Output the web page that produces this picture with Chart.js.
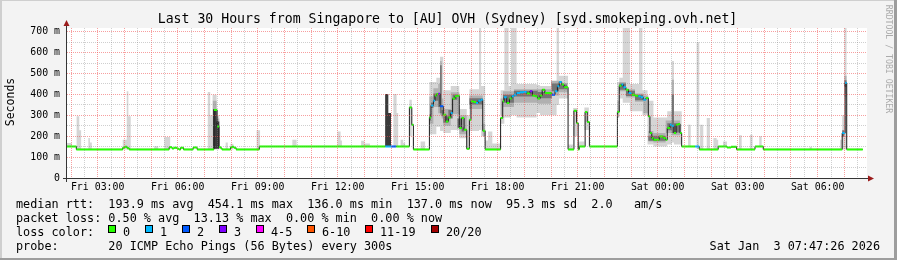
<!DOCTYPE html>
<html>
<head>
<meta charset="utf-8">
<script src="https://cdn.jsdelivr.net/npm/chart.js@4.4.1/dist/chart.umd.min.js"></script>
<style>
  html, body { margin: 0; padding: 0; background: #f3f3f3; }
  canvas { display: block; }
</style>
</head>
<body>
<canvas id="smokeChart" width="897" height="260"></canvas>
<script>
const chartTitle = 'Last 30 Hours from Singapore to [AU] OVH (Sydney) [syd.smokeping.ovh.net]';

// x values are hours since Fri 00:00
const timeLabelHours = [3, 6, 9, 12, 15, 18, 21, 24, 27, 30];
const timeLabels = ['Fri 03:00', 'Fri 06:00', 'Fri 09:00', 'Fri 12:00', 'Fri 15:00',
                    'Fri 18:00', 'Fri 21:00', 'Sat 00:00', 'Sat 03:00', 'Sat 06:00'];
const rttTicks = [0, 100, 200, 300, 400, 500, 600, 700];
const rttTickLabels = ['0', '100 m', '200 m', '300 m', '400 m', '500 m', '600 m', '700 m'];

const lossColors = ['#26ff00', '#00b8ff', '#0059ff', '#7e00ff', '#ff00ff', '#ff5500', '#ff0000', '#a10000'];
const lossLabels = ['0', '1', '2', '3', '4-5', '6-10', '11-19', '20/20'];

// median rtt: [hour, ms, loss colour index], value holds until next row
const median = [
  [1.85, 151, 0], [2.20, 137, 0], [3.94, 145, 0], [4.01, 150, 0], [4.10, 143, 0], [4.18, 137, 0],
  [5.68, 147, 0], [5.79, 141, 0], [5.86, 145, 0], [5.98, 140, 0], [6.05, 137, 0], [6.11, 145, 0],
  [6.22, 137, 0], [6.58, 146, 0], [6.73, 137, 0], [7.36, 326, 0], [7.48, 247, 0], [7.55, 148, 0],
  [7.61, 143, 0], [7.66, 137, 0], [7.98, 147, 0], [8.04, 150, 0], [8.11, 145, 0], [8.19, 137, 0],
  [9.06, 151, 0], [13.78, 151, 1], [14.00, 151, 2], [14.20, 151, 0], [14.69, 338, 0], [14.78, 255, 0],
  [14.84, 137, 0], [15.44, 290, 0], [15.50, 347, 1], [15.59, 370, 1], [15.65, 395, 0], [15.71, 402, 0],
  [15.77, 403, 3], [15.84, 343, 2], [15.96, 303, 0], [16.06, 271, 0], [16.15, 290, 0], [16.24, 311, 1],
  [16.31, 380, 0], [16.40, 391, 0], [16.49, 394, 0], [16.56, 239, 0], [16.65, 287, 0], [16.74, 231, 0],
  [16.84, 140, 0], [16.94, 279, 0], [17.00, 367, 0], [17.09, 364, 0], [17.19, 359, 1], [17.27, 370, 1],
  [17.36, 375, 1], [17.44, 226, 0], [17.53, 137, 0], [18.11, 287, 0], [18.19, 367, 0], [18.24, 386, 1],
  [18.34, 359, 0], [18.44, 380, 0], [18.53, 391, 1], [18.61, 399, 1], [18.71, 407, 1], [18.84, 410, 1],
  [18.96, 412, 1], [19.09, 405, 0], [19.21, 415, 3], [19.30, 395, 0], [19.40, 391, 0], [19.49, 380, 0],
  [19.59, 395, 0], [19.67, 423, 0], [19.77, 407, 0], [19.90, 407, 0], [20.03, 399, 2], [20.15, 415, 1],
  [20.24, 439, 1], [20.31, 460, 1], [20.40, 447, 0], [20.49, 434, 0], [20.64, 137, 0], [20.86, 322, 0],
  [20.96, 263, 0], [21.02, 137, 0], [21.06, 151, 0], [21.28, 316, 0], [21.36, 268, 0], [21.44, 151, 0],
  [22.49, 316, 0], [22.56, 442, 0], [22.64, 447, 1], [22.71, 434, 1], [22.81, 423, 0], [22.91, 407, 1],
  [23.03, 399, 0], [23.15, 394, 0], [23.27, 391, 1], [23.36, 386, 1], [23.46, 375, 1], [23.56, 383, 0],
  [23.65, 295, 0], [23.71, 215, 0], [23.78, 191, 0], [23.84, 183, 0], [24.06, 199, 0], [24.21, 191, 0],
  [24.30, 183, 0], [24.36, 239, 0], [24.46, 255, 1], [24.53, 250, 1], [24.61, 215, 0], [24.69, 255, 0],
  [24.77, 258, 0], [24.84, 215, 0], [24.90, 151, 0], [25.40, 151, 1], [25.56, 137, 0], [26.27, 151, 0],
  [26.60, 146, 0], [26.75, 149, 0], [26.96, 137, 0], [27.65, 151, 0], [27.96, 137, 0], [30.92, 215, 1],
  [31.03, 455, 1], [31.09, 137, 0], [31.69, 137, 0]
];

// smoke: [from hour, to hour, low ms, high ms]
const smokeLight = [
  [1.85, 2.03, 150, 168], [2.21, 2.31, 137, 295], [2.31, 2.38, 137, 228], [2.65, 2.71, 137, 191],
  [2.71, 2.78, 137, 170], [3.94, 4.09, 137, 183], [4.09, 4.15, 137, 415], [4.15, 4.24, 137, 295],
  [5.12, 5.27, 137, 152], [5.50, 5.72, 137, 196], [7.13, 7.22, 137, 412], [7.22, 7.31, 137, 300],
  [7.31, 7.46, 137, 399], [7.46, 7.56, 137, 300], [7.80, 7.88, 137, 170], [7.98, 8.09, 137, 164],
  [8.96, 9.09, 137, 228], [10.30, 10.46, 151, 183], [11.99, 12.11, 151, 223], [12.11, 12.16, 151, 180],
  [12.88, 13.00, 151, 178], [13.00, 13.21, 151, 165], [14.09, 14.21, 151, 402], [14.21, 14.27, 151, 311],
  [14.36, 14.46, 151, 183], [14.46, 14.53, 151, 167], [14.69, 14.78, 200, 375], [15.11, 15.28, 137, 175],
  [15.44, 15.70, 210, 460], [15.70, 15.84, 245, 480], [15.84, 15.96, 225, 580], [15.96, 16.24, 215, 420],
  [16.24, 16.56, 230, 440], [16.56, 16.84, 190, 330], [16.84, 16.94, 137, 300], [16.94, 17.30, 225, 425],
  [17.30, 17.38, 230, 718], [17.38, 17.53, 200, 440], [17.53, 17.64, 137, 180], [17.64, 17.80, 137, 223],
  [17.80, 18.11, 137, 165], [18.11, 18.25, 260, 420], [18.25, 18.41, 290, 718], [18.41, 18.50, 290, 440],
  [18.50, 18.71, 300, 718], [18.71, 19.46, 290, 450], [19.46, 19.59, 311, 445], [19.59, 20.21, 300, 440],
  [20.21, 20.30, 350, 718], [20.30, 20.64, 380, 490], [20.64, 20.83, 137, 160], [20.83, 21.00, 200, 335],
  [21.00, 21.06, 137, 170], [21.06, 21.25, 151, 175], [21.25, 21.42, 230, 338], [22.49, 22.56, 300, 460],
  [22.56, 22.69, 380, 480], [22.69, 22.96, 360, 718], [22.96, 23.30, 320, 450], [23.30, 23.43, 320, 718],
  [23.43, 23.62, 300, 420], [23.62, 23.84, 160, 370], [23.84, 24.36, 151, 290], [24.36, 24.53, 160, 320],
  [24.53, 24.61, 170, 560], [24.61, 24.90, 160, 320], [25.14, 25.24, 151, 255], [25.46, 25.56, 140, 650],
  [25.59, 25.71, 137, 255], [25.84, 25.96, 137, 287], [26.09, 26.21, 137, 191], [26.21, 26.27, 137, 183],
  [26.45, 26.60, 151, 175], [27.05, 27.15, 137, 205], [27.46, 27.56, 137, 207], [27.81, 27.90, 151, 200],
  [29.70, 29.78, 137, 150], [30.84, 30.92, 137, 183], [30.92, 31.00, 137, 300], [31.00, 31.09, 137, 718]
];
const smokeMid = [
  [7.31, 7.46, 140, 370], [7.46, 7.56, 140, 285], [15.44, 15.59, 260, 390], [15.59, 15.77, 340, 430],
  [15.77, 15.84, 310, 450], [15.84, 15.90, 300, 560], [15.90, 15.96, 285, 380], [15.96, 16.24, 250, 330],
  [16.24, 16.56, 305, 410], [16.56, 16.84, 210, 300], [16.94, 17.44, 330, 395], [17.44, 17.53, 200, 260],
  [18.11, 18.20, 300, 380], [18.20, 18.61, 340, 415], [18.61, 19.50, 360, 425], [19.50, 20.00, 355, 425],
  [20.00, 20.30, 395, 465], [20.30, 20.62, 410, 455], [22.49, 22.56, 290, 370], [22.56, 22.81, 415, 460],
  [22.81, 23.15, 385, 425], [23.15, 23.46, 365, 405], [23.46, 23.65, 310, 395], [23.65, 23.84, 175, 225],
  [23.84, 24.30, 170, 215], [24.30, 24.53, 215, 275], [24.53, 24.61, 205, 470], [24.61, 24.84, 205, 275],
  [31.00, 31.09, 390, 490]
];
const smokeDark = [
  [15.44, 15.50, 275, 305], [15.50, 15.59, 335, 360], [15.59, 15.77, 370, 405], [15.77, 15.84, 340, 405],
  [15.84, 15.90, 310, 540], [15.90, 15.96, 295, 325], [15.96, 16.15, 265, 295], [16.15, 16.31, 285, 325],
  [16.31, 16.49, 375, 400], [16.49, 16.65, 240, 285], [16.65, 16.74, 222, 242], [16.94, 17.44, 352, 382],
  [18.20, 18.61, 360, 398], [18.61, 19.50, 390, 418], [19.50, 20.03, 382, 412], [20.03, 20.30, 415, 452],
  [20.30, 20.60, 425, 448], [22.56, 22.81, 422, 452], [22.81, 23.15, 392, 418], [23.15, 23.46, 372, 398],
  [23.65, 24.30, 178, 202], [24.36, 24.53, 228, 262], [24.53, 24.61, 215, 400], [24.61, 24.84, 218, 262],
  [30.92, 31.00, 198, 228], [31.00, 31.09, 435, 468]
];
const smokeCore = [
  [7.33, 7.46, 140, 330], [7.46, 7.56, 140, 270], [13.78, 13.90, 151, 402], [13.90, 14.00, 151, 311]
];

const statsRtt = 'median rtt:  193.9 ms avg  454.1 ms max  136.0 ms min  137.0 ms now  95.3 ms sd  2.0   am/s';
const statsLoss = 'packet loss: 0.50 % avg  13.13 % max  0.00 % min  0.00 % now';
const probeText = 'probe:       20 ICMP Echo Pings (56 Bytes) every 300s';
const stampText = 'Sat Jan  3 07:47:26 2026';

const MONO = '"DejaVu Sans Mono", monospace';
const majorGrid = 'rgba(240, 80, 80, 0.55)';
const minorGrid = 'rgba(130, 130, 130, 0.38)';

Chart.defaults.font.family = MONO;

const datasets = [];
[
  { rows: smokeLight, color: '#d5d5d5', order: 40 },
  { rows: smokeMid, color: '#b0b0b0', order: 30 },
  { rows: smokeDark, color: '#747474', order: 20 },
  { rows: smokeCore, color: '#3a3a3a', order: 10 }
].forEach(layer => {
  const top = [], bottom = [];
  layer.rows.forEach(([s, e, lo, hi]) => {
    top.push({ x: s, y: hi }, { x: e, y: lo });
    bottom.push({ x: s, y: lo }, { x: e, y: lo });
  });
  datasets.push({ data: top, stepped: true, fill: '+1', backgroundColor: layer.color,
                  borderColor: 'transparent', borderWidth: 0, pointRadius: 0, order: layer.order });
  datasets.push({ data: bottom, stepped: true, fill: false,
                  borderColor: 'transparent', borderWidth: 0, pointRadius: 0, order: layer.order });
});

datasets.push({
  data: median.map(([h, v]) => ({ x: h, y: v })),
  stepped: true, fill: false, borderColor: '#1c1c1c', borderWidth: 1, pointRadius: 0, order: 5
});

lossColors.forEach((color, level) => {
  const pts = [];
  for (let i = 0; i < median.length - 1; i++) {
    const [h, v, loss] = median[i];
    if (loss !== level) continue;
    const next = median[i + 1][0];
    pts.push({ x: h, y: v }, { x: next, y: v }, { x: next, y: null });
  }
  if (pts.length) {
    datasets.push({ data: pts, fill: false, borderColor: color, borderWidth: 2, borderCapStyle: 'butt',
                    pointRadius: 0, spanGaps: false, order: 1 });
  }
});

const frame = {
  id: 'frame',
  beforeDraw(chart) {
    const { ctx, chartArea: a, width, height } = chart;
    ctx.save();
    ctx.fillStyle = '#f3f3f3';
    ctx.fillRect(0, 0, width, height);
    ctx.fillStyle = '#cfcfcf';
    ctx.fillRect(0, 0, width, 1);
    ctx.fillRect(0, 0, 2, height);
    ctx.fillStyle = '#9d9d9d';
    ctx.fillRect(0, height - 2, width, 2);
    ctx.fillRect(width - 3, 0, 3, height);
    ctx.fillStyle = '#ffffff';
    ctx.fillRect(a.left, a.top, a.right - a.left, a.bottom - a.top);
    ctx.restore();
  },
  afterDatasetsDraw(chart) {
    // rrdtool paints its dotted grid over the graph, one pixel on, one off
    const { ctx, chartArea: a, scales } = chart;
    const top = Math.round(a.top), bottom = Math.round(a.bottom);
    const left = Math.round(a.left), right = Math.round(a.right);
    ctx.save();
    for (let h = 2; h <= 31.5; h += 0.5) {
      const px = Math.floor(scales.x.getPixelForValue(h));
      ctx.fillStyle = Number.isInteger(h) ? majorGrid : minorGrid;
      for (let py = top; py < bottom; py += 2) ctx.fillRect(px, py, 1, 1);
    }
    for (let v = 50; v <= 700; v += 50) {
      const py = Math.floor(scales.y.getPixelForValue(v));
      ctx.fillStyle = v % 100 === 0 ? majorGrid : minorGrid;
      for (let px = left; px < right; px += 2) ctx.fillRect(px, py, 1, 1);
    }
    ctx.restore();
  },
  afterDraw(chart) {
    const { ctx, chartArea: a } = chart;
    ctx.save();

    // axes with arrows
    ctx.strokeStyle = '#353535';
    ctx.lineWidth = 1;
    ctx.beginPath();
    ctx.moveTo(a.left - 0.5, a.bottom + 4);
    ctx.lineTo(a.left - 0.5, a.top - 5);
    ctx.moveTo(a.left - 4, a.bottom + 0.5);
    ctx.lineTo(a.right + 2, a.bottom + 0.5);
    ctx.stroke();
    ctx.fillStyle = '#9b1c1c';
    ctx.beginPath();
    ctx.moveTo(a.left - 0.5, a.top - 8);
    ctx.lineTo(a.left - 3.5, a.top - 2);
    ctx.lineTo(a.left + 2.5, a.top - 2);
    ctx.closePath();
    ctx.fill();
    ctx.beginPath();
    ctx.moveTo(a.right + 7, a.bottom + 0.5);
    ctx.lineTo(a.right + 1, a.bottom - 2.5);
    ctx.lineTo(a.right + 1, a.bottom + 3.5);
    ctx.closePath();
    ctx.fill();

    // title
    ctx.fillStyle = '#000';
    ctx.font = '13.2px ' + MONO;
    ctx.textAlign = 'center';
    ctx.textBaseline = 'alphabetic';
    ctx.fillText(chartTitle, 447.5, 22.8);

    // vertical texts
    ctx.save();
    ctx.translate(11, 102);
    ctx.rotate(-Math.PI / 2);
    ctx.font = '11.5px ' + MONO;
    ctx.textBaseline = 'middle';
    ctx.fillText('Seconds', 0, 0);
    ctx.restore();

    ctx.save();
    ctx.translate(888, 59);
    ctx.rotate(Math.PI / 2);
    ctx.font = '8.2px ' + MONO;
    ctx.fillStyle = '#ababab';
    ctx.textBaseline = 'middle';
    ctx.fillText('RRDTOOL / TOBI OETIKER', 0, 0);
    ctx.restore();

    // footer
    ctx.font = '11.8px ' + MONO;
    ctx.textAlign = 'left';
    ctx.fillStyle = '#000';
    ctx.fillText(statsRtt, 16, 208.3);
    ctx.fillText(statsLoss, 16, 222);
    ctx.fillText('loss color:', 16, 235.8);
    ctx.fillText(probeText, 16, 249.5);
    ctx.textAlign = 'right';
    ctx.fillText(stampText, 880, 249.5);

    ctx.textAlign = 'left';
    let bx = 108.3;
    lossLabels.forEach((label, i) => {
      const x = Math.round(bx);
      ctx.fillStyle = lossColors[i];
      ctx.fillRect(x, 225, 8, 8);
      ctx.strokeStyle = '#000';
      ctx.strokeRect(x + 0.5, 225.5, 7, 7);
      ctx.fillStyle = '#000';
      ctx.fillText(label, x + 15, 235.8);
      bx += (4.2 + label.length) * 7.1;
    });

    ctx.restore();
  }
};

new Chart(document.getElementById('smokeChart'), {
  type: 'line',
  data: { datasets },
  plugins: [frame],
  options: {
    responsive: false,
    devicePixelRatio: 1,
    animation: false,
    layout: { padding: { left: 0, top: 28, right: 30, bottom: 0 } },
    plugins: { legend: { display: false }, tooltip: { enabled: false }, title: { display: false } },
    elements: { line: { tension: 0 } },
    scales: {
      x: {
        type: 'linear',
        min: 1.85,
        max: 31.85,
        afterFit: s => { s.height = 82; },
        afterBuildTicks: s => { s.ticks = timeLabelHours.map(h => ({ value: h })); },
        grid: { display: false, drawTicks: false },
        border: { display: false },
        ticks: {
          autoSkip: false,
          maxRotation: 0,
          minRotation: 0,
          padding: 3,
          color: '#000',
          font: { size: 9.9 },
          callback: v => timeLabels[timeLabelHours.indexOf(v)] || ''
        }
      },
      y: {
        type: 'linear',
        min: 0,
        max: 718,
        afterFit: s => { s.width = 67; },
        afterBuildTicks: s => { s.ticks = rttTicks.map(v => ({ value: v })); },
        grid: { display: false, drawTicks: false },
        border: { display: false },
        ticks: {
          autoSkip: false,
          padding: 7,
          color: '#000',
          font: { size: 9.9 },
          callback: v => rttTickLabels[rttTicks.indexOf(v)] || ''
        }
      }
    }
  }
});
</script>
</body>
</html>
